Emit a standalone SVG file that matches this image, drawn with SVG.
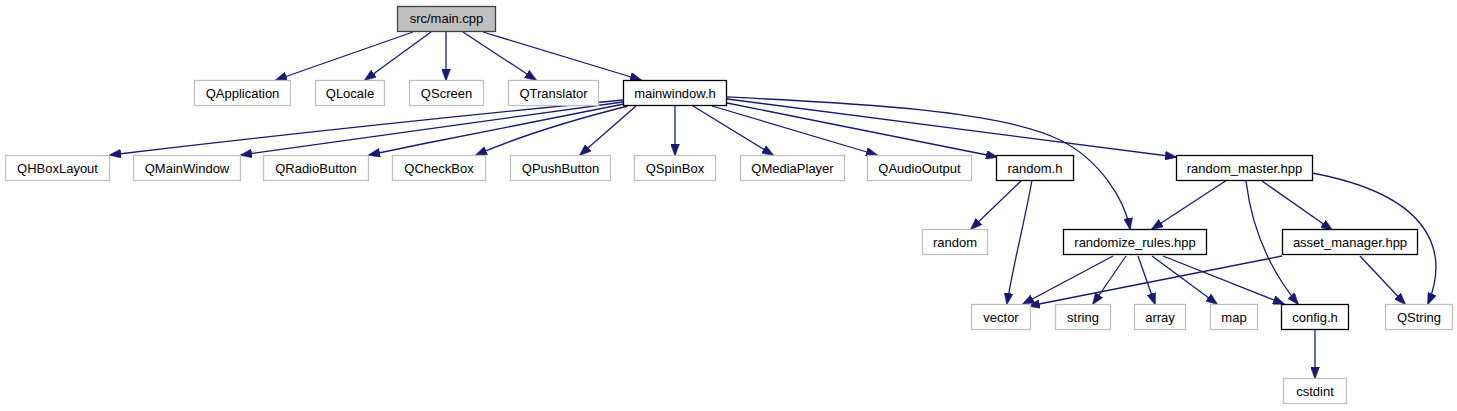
<svg xmlns="http://www.w3.org/2000/svg" width="1457" height="411" viewBox="0 0 1457 411">
<style>
.n rect{fill:#fff;stroke:#000;stroke-width:1.3}
.x rect{fill:#fff;stroke:#bfbfbf;stroke-width:1.3}
.m rect{fill:#bfbfbf;stroke:#404040;stroke-width:1.3}
text{font-family:"Liberation Sans",Arial,sans-serif;font-size:13px;fill:#000;text-anchor:middle}
#edges path{fill:none;stroke:#191970;stroke-width:1.3;marker-end:url(#ah)}
</style>
<defs>
<marker id="ah" viewBox="0 0 12 9" refX="11" refY="4.5" markerWidth="12" markerHeight="9" markerUnits="userSpaceOnUse" orient="auto">
<path d="M0,0 L12,4.5 L0,9 z" fill="#191970" stroke="#191970" stroke-width="0.5"/>
</marker>
</defs>
<rect width="1457" height="411" fill="#fff"/>
<g id="edges">
<path d="M413,32 L276,80"/>
<path d="M431,32 L365,80"/>
<path d="M446,32 L446,80"/>
<path d="M463,32 L536,80"/>
<path d="M483,32 L641,80"/>
<path d="M623,100 C520,110 320,130 110,155"/>
<path d="M623,102 C530,114 390,134 241,155"/>
<path d="M624,104 C560,116 460,136 369,155"/>
<path d="M628,106 C580,118 520,136 476,155"/>
<path d="M636,106 L580,155"/>
<path d="M675,106 L675,155"/>
<path d="M693,106 L773,155"/>
<path d="M712,106 L877,155"/>
<path d="M727,103 L997,157"/>
<path d="M727,99 L1176,157"/>
<path d="M727,97 C850,103 1000,110 1060,140 C1100,160 1125,200 1130,229"/>
<path d="M1022,180 L971,229"/>
<path d="M1032,180 C1025,220 1012,270 1007,304"/>
<path d="M1227,180 L1152,229"/>
<path d="M1262,181 L1332,230"/>
<path d="M1246,181 C1252,230 1270,270 1298,304"/>
<path d="M1312,173 C1430,195 1450,250 1428,304"/>
<path d="M1113,256 L1023,304"/>
<path d="M1126,256 L1093,304"/>
<path d="M1138,256 L1155,304"/>
<path d="M1152,256 L1217,304"/>
<path d="M1163,256 L1284,304"/>
<path d="M1282,256 L1029,306"/>
<path d="M1360,256 L1405,304"/>
<path d="M1315,330 L1315,378"/>
</g>
<g id="main" class="m"><rect x="397.5" y="6.5" width="98" height="25"/><text x="446.5" y="23">src/main.cpp</text></g>
<g id="QApplication" class="x"><rect x="194.5" y="80.5" width="96" height="25"/><text x="242.5" y="97.5">QApplication</text></g>
<g id="QLocale" class="x"><rect x="315.5" y="80.5" width="69" height="25"/><text x="350" y="97.5">QLocale</text></g>
<g id="QScreen" class="x"><rect x="409.5" y="80.5" width="74" height="25"/><text x="446.5" y="97.5">QScreen</text></g>
<g id="QTranslator" class="x"><rect x="508.5" y="80.5" width="90" height="25"/><text x="553.5" y="97.5">QTranslator</text></g>
<g id="mainwindow" class="n"><rect x="623.5" y="80.5" width="103" height="25"/><text x="675" y="97.5">mainwindow.h</text></g>
<g id="QHBoxLayout" class="x"><rect x="5.5" y="155.5" width="104" height="25"/><text x="57.5" y="172.5">QHBoxLayout</text></g>
<g id="QMainWindow" class="x"><rect x="133.5" y="155.5" width="107" height="25"/><text x="187" y="172.5">QMainWindow</text></g>
<g id="QRadioButton" class="x"><rect x="263.5" y="155.5" width="105" height="25"/><text x="316" y="172.5">QRadioButton</text></g>
<g id="QCheckBox" class="x"><rect x="392.5" y="155.5" width="93" height="25"/><text x="439" y="172.5">QCheckBox</text></g>
<g id="QPushButton" class="x"><rect x="510.5" y="155.5" width="100" height="25"/><text x="560.5" y="172.5">QPushButton</text></g>
<g id="QSpinBox" class="x"><rect x="634.5" y="155.5" width="81" height="25"/><text x="675" y="172.5">QSpinBox</text></g>
<g id="QMediaPlayer" class="x"><rect x="740.5" y="155.5" width="104" height="25"/><text x="792.5" y="172.5">QMediaPlayer</text></g>
<g id="QAudioOutput" class="x"><rect x="867.5" y="155.5" width="104" height="25"/><text x="919.5" y="172.5">QAudioOutput</text></g>
<g id="random_h" class="n"><rect x="996.5" y="155.5" width="77" height="25"/><text x="1035" y="172.5">random.h</text></g>
<g id="random_master" class="n"><rect x="1176.5" y="155.5" width="136" height="25"/><text x="1244.5" y="172.5">random_master.hpp</text></g>
<g id="random" class="x"><rect x="922.5" y="229.5" width="65" height="25"/><text x="955" y="246.5">random</text></g>
<g id="randomize_rules" class="n"><rect x="1063.5" y="229.5" width="143" height="25"/><text x="1135" y="246.5">randomize_rules.hpp</text></g>
<g id="asset_manager" class="n"><rect x="1282.5" y="229.5" width="135" height="25"/><text x="1350" y="246.5">asset_manager.hpp</text></g>
<g id="vector" class="x"><rect x="971.5" y="304.5" width="59" height="25"/><text x="1001" y="321.5">vector</text></g>
<g id="string" class="x"><rect x="1055.5" y="304.5" width="55" height="25"/><text x="1083" y="321.5">string</text></g>
<g id="array" class="x"><rect x="1134.5" y="304.5" width="51" height="25"/><text x="1160" y="321.5">array</text></g>
<g id="map" class="x"><rect x="1210.5" y="304.5" width="47" height="25"/><text x="1234" y="321.5">map</text></g>
<g id="config" class="n"><rect x="1281.5" y="304.5" width="67" height="25"/><text x="1315" y="321.5">config.h</text></g>
<g id="QString" class="x"><rect x="1385.5" y="304.5" width="67" height="25"/><text x="1419" y="321.5">QString</text></g>
<g id="cstdint" class="x"><rect x="1283.5" y="378.5" width="63" height="25"/><text x="1315" y="395.5">cstdint</text></g>
</svg>
